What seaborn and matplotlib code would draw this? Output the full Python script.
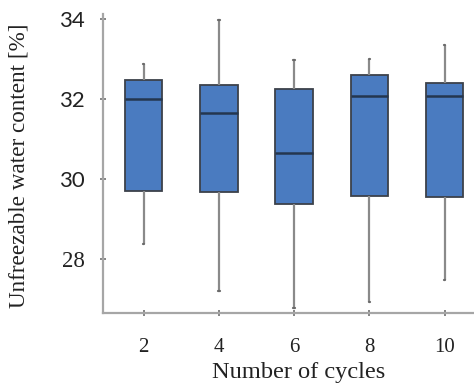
import numpy as np
import pandas as pd
import matplotlib
matplotlib.use("Agg")
import matplotlib.pyplot as plt
import seaborn as sns

# Five-number summaries per cycle count
cycles = ["2", "4", "6", "8", "10"]
whisker_low = [28.38, 27.21, 26.77, 26.92, 27.48]
q1 = [29.70, 29.67, 29.38, 29.57, 29.56]
median = [32.00, 31.65, 30.65, 32.07, 32.07]
q3 = [32.46, 32.35, 32.25, 32.59, 32.40]
whisker_high = [32.88, 33.96, 32.96, 32.99, 33.35]

y_ticks = [28, 30, 32, 34]

rows = []
for i, c in enumerate(cycles):
    for v in (whisker_low[i], q1[i], median[i], q3[i], whisker_high[i]):
        rows.append({"cycles": c, "content": v})
df = pd.DataFrame(rows)

sns.set_style("white")
fig = plt.figure(figsize=(4.74, 3.87), dpi=100)
ax = fig.add_axes([103 / 474, 74 / 387, 1 - 103 / 474, 299 / 387])

box_color = "#4a7bc0"
sns.boxplot(
    data=df, x="cycles", y="content", order=cycles, ax=ax,
    whis=(0, 100), width=0.5, color=box_color, saturation=1,
    boxprops=dict(facecolor=box_color, edgecolor="#3c414a", linewidth=1.3),
    medianprops=dict(color="#24364f", linewidth=1.8),
    whiskerprops=dict(color="#8a8a8a", linewidth=1.6),
    capprops=dict(color="#6a6a6a", linewidth=1.6),
    capwidths=0.02,
    showfliers=False,
)

ax.set_ylim(26.65, 34.12)
ax.set_xlim(-0.54, 4.39)
ax.set_yticks(y_ticks)
ax.set_yticklabels([str(t) for t in y_ticks])

for side in ("top", "right"):
    ax.spines[side].set_visible(False)
for side in ("left", "bottom"):
    ax.spines[side].set_color("#a6a6a6")
    ax.spines[side].set_linewidth(1.6)

ax.tick_params(axis="both", which="both", direction="inout", length=4,
               width=1.2, color="#707070", labelcolor="#222222",
               left=True, bottom=True)
ax.tick_params(axis="y", pad=11)
ax.tick_params(axis="x", pad=16)

for lab in ax.get_yticklabels():
    if lab.get_text() == "28":
        lab.set_fontfamily("Liberation Serif")
        lab.set_fontsize(16.5)
    else:
        lab.set_fontfamily("Lato")
        lab.set_fontsize(16)
for lab in ax.get_xticklabels():
    lab.set_fontfamily("Liberation Serif")
    lab.set_fontsize(15)

ax.set_xlabel("Number of cycles", family="Liberation Serif", fontsize=17.6,
              color="#222222")
ax.xaxis.set_label_coords(0.526, -0.165)
ax.set_ylabel("Unfreezable water content [%]", family="Liberation Serif",
              fontsize=16.7, color="#222222")
ax.yaxis.set_label_coords(-0.198, 0.493)

fig.savefig("out.png", dpi=100)
